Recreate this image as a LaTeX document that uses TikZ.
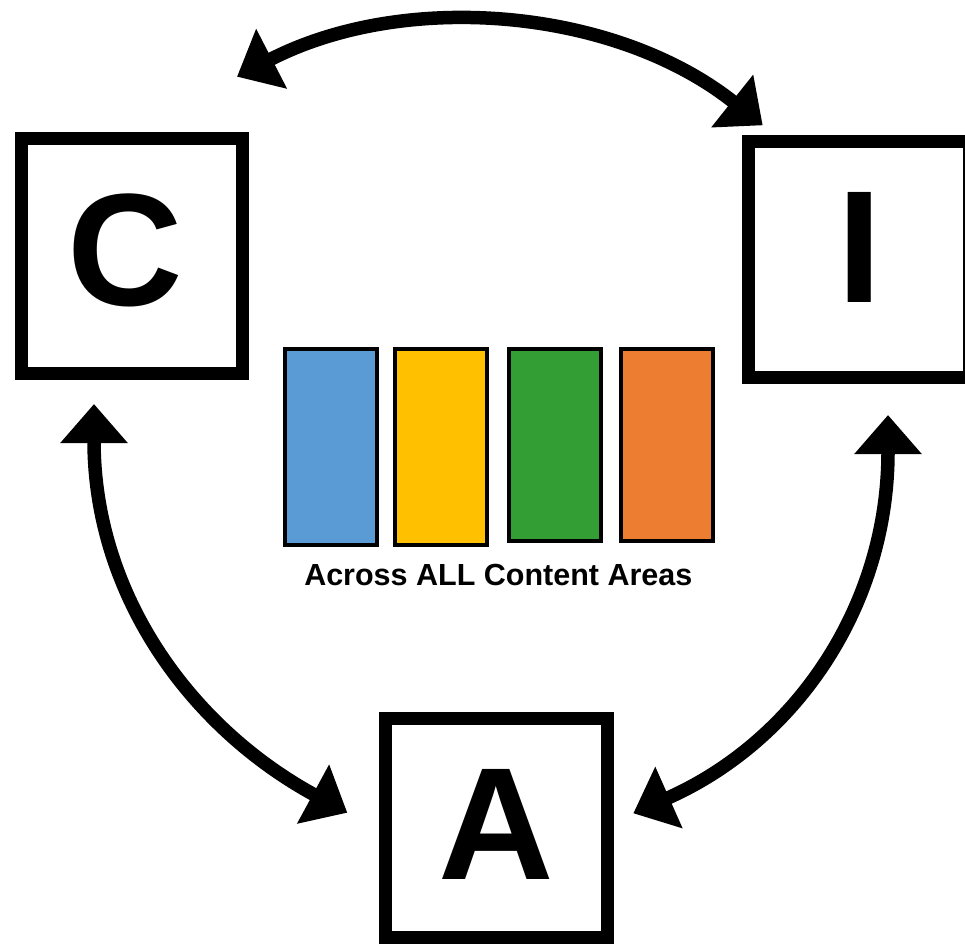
\documentclass[tikz,border=0pt]{standalone}
\usepackage{fontspec}
\setmainfont{Liberation Sans}
\usetikzlibrary{arrows.meta}
\definecolor{barblue}{HTML}{5B9BD5}
\definecolor{baryellow}{HTML}{FFC000}
\definecolor{bargreen}{HTML}{339E33}
\definecolor{barorange}{HTML}{ED7D31}
\begin{document}
\begin{tikzpicture}[x=1pt,y=-1pt,
  box/.style={draw=black, line width=13pt, inner sep=0pt, minimum width=221.5pt},
  bigletter/.style={inner sep=0pt, anchor=base, font=\fontsize{160}{160}\selectfont\bfseries},
  bar/.style={draw=black, line width=4pt, inner sep=0pt, minimum width=92pt},
  caption/.style={inner sep=0pt, anchor=base, font=\fontsize{30.5}{36}\selectfont\bfseries},
  conn/.style={line width=13.5pt, {Triangle[length=39pt,width=65pt]}-{Triangle[length=39pt,width=65pt]}}]
\useasboundingbox (0,0) rectangle (965,945);
% boxes
\node[box, minimum height=235.3pt] (C) at (131.85,255.85) {};
\node[box, minimum height=236pt] (I) at (859.2,259.7) {};
\node[box, minimum height=218.4pt] (A) at (496.65,828) {};
% letters
\node[bigletter] (Cl) at (125.3,305) {C};
\node[bigletter] (Il) at (860,302.7) {I};
\node[bigletter] (Al) at (496,879.3) {A};
% bars
\node[bar, fill=barblue, minimum height=195.4pt] (b1) at (331.3,447) {};
\node[bar, fill=baryellow, minimum height=195.4pt] (b2) at (441.3,447) {};
\node[bar, fill=bargreen, minimum height=191.4pt] (b3) at (554.7,445) {};
\node[bar, fill=barorange, minimum height=191.4pt] (b4) at (667,445) {};
\node[caption] (cap) at (498.3,585) {Across ALL Content Areas};
% arrow end points
\coordinate (ct) at (237,76.7);
\coordinate (it) at (762.7,125.3);
\coordinate (ib) at (888,415);
\coordinate (ab) at (633.3,813.3);
\coordinate (cb) at (94,404);
\coordinate (al) at (347.3,812.7);
% connectors
\draw[conn] (ct) .. controls +(168.2,-86.9) and +(-147.4,-117.2) .. (it);
\draw[conn] (cb) .. controls +(0,190) and +(-157.3,-85.4) .. (al);
\draw[conn] (ib) .. controls +(0,190) and +(163.6,-72.5) .. (ab);
\end{tikzpicture}
\end{document}
